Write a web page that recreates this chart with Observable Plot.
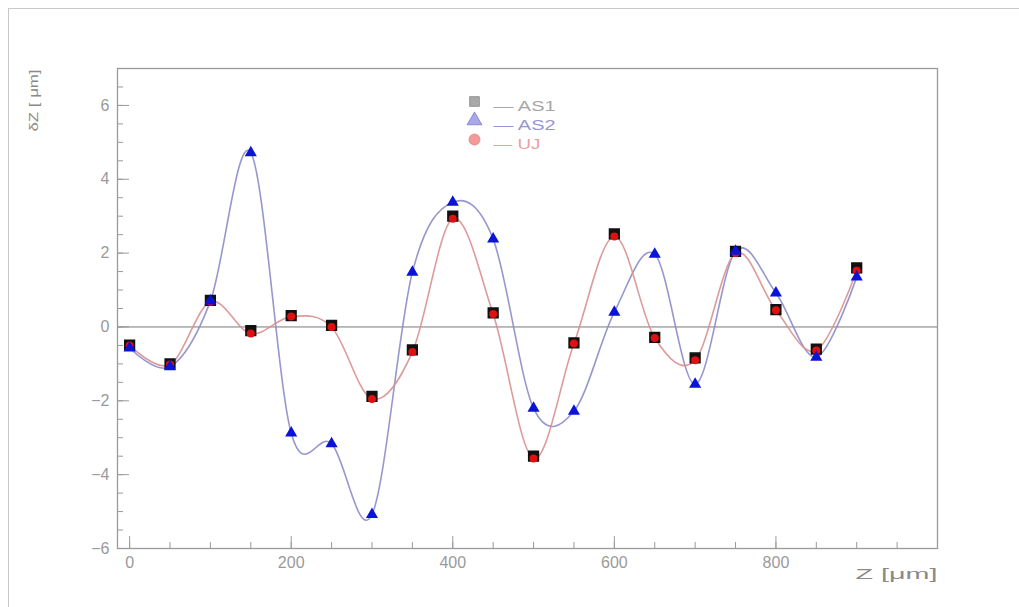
<!DOCTYPE html>
<html><head><meta charset="utf-8">
<script src="https://cdn.jsdelivr.net/npm/d3@7"></script>
<script src="https://cdn.jsdelivr.net/npm/@observablehq/plot@0.6"></script>
<style>
body{margin:0;background:#fff;}
#wrap{position:relative;width:1019px;height:607px;overflow:hidden;}
#outer{position:absolute;left:8px;top:8px;width:1030px;height:620px;border-left:1.5px solid #c8c8c8;border-top:1.5px solid #c8c8c8;}
#chart{position:absolute;left:0;top:0;}
</style></head>
<body><div id="wrap"><div id="outer"></div><div id="chart"></div></div>
<script>
const zPos = [0,50,100,150,200,250,300,350,400,450,500,550,600,650,700,750,800,850,900];
const as1 = [-0.49,-1.0,0.72,-0.1,0.31,0.04,-1.88,-0.62,3.0,0.38,-3.5,-0.43,2.52,-0.28,-0.84,2.05,0.47,-0.6,1.6];
const as2 = [-0.57,-1.08,0.7,4.72,-2.87,-3.16,-5.08,1.48,3.38,2.38,-2.2,-2.28,0.4,1.97,-1.55,2.05,0.92,-0.82,1.35];
const uj  = [-0.5,-1.02,0.68,-0.18,0.28,0.0,-1.95,-0.68,2.93,0.35,-3.56,-0.45,2.45,-0.3,-0.9,2.0,0.45,-0.64,1.52];
const xTicks = [0,200,400,600,800];
const xMinor = d3.range(0,1000,50);
const yTicks = [-6,-4,-2,0,2,4,6];
const yMinor = d3.range(-6,7.01,0.5);
const legendLabels = ["— AS1","— AS2","— UJ"];
const legendLengths = [62,62,47];
const legendSymbols = ["square","triangle","circle"];
const legendFill = ["#a8a8a8","#a8a8e8","#f09a9a"];
const legendStroke = ["#8a8a8a","#7a7ad0","#e88080"];
const legendText = ["#a6a6a6","#9696d4","#eea0a0"];

const rows = (ys)=>zPos.map((z,i)=>({z, v:ys[i]}));
const font = "Liberation Sans, Helvetica, Arial, sans-serif";

const legendMarks = legendLabels.flatMap((lab,i)=>[
  Plot.dot([0],{frameAnchor:"top-left", dx:357, dy:33+i*19, symbol:legendSymbols[i], r:5.5, fill:legendFill[i], stroke:legendStroke[i], strokeWidth:0.8}),
  Plot.text([lab],{frameAnchor:"top-left", dx:376, dy:33+i*19, text:d=>d, fill:legendText[i], fontSize:14, textAnchor:"start", className:"stretch"+i})
]);

const plot = Plot.plot({
  width:1019, height:607,
  marginLeft:117, marginRight:82, marginTop:68, marginBottom:59,
  style:{fontFamily:font, background:"transparent"},
  x:{domain:[-15,1000]},
  y:{domain:[-6,7]},
  marks:[
    Plot.frame({stroke:"#9a9a9a", strokeWidth:1.3}),
    Plot.ruleY([0],{stroke:"#777", strokeWidth:1}),
    Plot.axisX(xMinor,{tickSize:-6, text:null, stroke:"#9a9a9a", label:null}),
    Plot.axisX(xTicks,{tickSize:-12, tickPadding:20, stroke:"#9a9a9a", fill:"#9a9a9a", fontSize:16, label:null}),
    Plot.axisY(yMinor,{tickSize:-6, text:null, stroke:"#9a9a9a", label:null}),
    Plot.axisY(yTicks,{tickSize:-12, tickPadding:20, stroke:"#9a9a9a", fill:"#9a9a9a", fontSize:16, label:null}),
    Plot.text(["Z [μm]"],{frameAnchor:"bottom-right", dy:30, text:d=>d, fill:"#8a8a8a", fontSize:14, textAnchor:"end", className:"xlab"}),
    Plot.text(["δZ [ μm]"],{frameAnchor:"top-left", dx:-89, dy:1, rotate:-90, text:d=>d, fill:"#8a8a8a", fontSize:13, textAnchor:"end", className:"ylab"}),
    Plot.line(rows(as2),{x:"z", y:"v", curve:"cardinal", tension:0, stroke:"#8c8cc8", strokeWidth:1.6, strokeOpacity:0.9}),
    Plot.line(rows(uj),{x:"z", y:"v", curve:"cardinal", tension:0, stroke:"#d89090", strokeWidth:1.6, strokeOpacity:0.9}),
    Plot.dot(rows(as1),{x:"z", y:"v", symbol:"square", r:5.5, fill:"#111", stroke:"#111"}),
    Plot.dot(rows(uj),{x:"z", y:"v", symbol:"circle", r:4, fill:"#e01010", stroke:"none"}),
    Plot.dot(rows(as2),{x:"z", y:"v", symbol:"triangle", r:4.5, fill:"#0a14d8", stroke:"none"}),
    ...legendMarks
  ]
});
const stretch = (sel, len) => d3.select(plot).selectAll(sel + " text").attr("textLength", len).attr("lengthAdjust", "spacingAndGlyphs");
legendLengths.forEach((len,i)=>stretch(".stretch"+i, len));
stretch(".xlab", 82);
stretch(".ylab", 62);
document.getElementById("chart").appendChild(plot);
</script>
</body></html>
